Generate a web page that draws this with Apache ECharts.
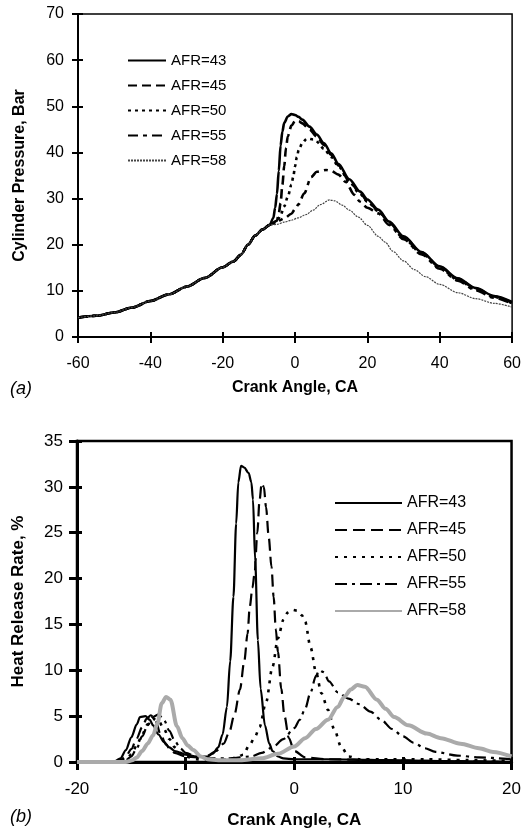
<!DOCTYPE html>
<html><head><meta charset="utf-8">
<script src="https://cdn.jsdelivr.net/npm/echarts@6/dist/echarts.min.js"></script>
<style>
html,body{margin:0;padding:0;background:#fff;}
#c1{position:absolute;left:0;top:0;width:524px;height:420px;}
#c2{position:absolute;left:0;top:420px;width:524px;height:417px;}
</style></head><body>
<div id="c1"></div><div id="c2"></div>
<script>
// ---------- (a) Cylinder pressure ----------
const seriesNames = ['AFR=43','AFR=45','AFR=50','AFR=55','AFR=58'];
const pXTicks = [-60,-40,-20,0,20,40,60];
const pYTicks = [0,10,20,30,40,50,60,70];
const caCompression = [-60,-55,-50,-45,-40,-35,-30,-25,-20,-17,-15,-13,-11,-9,-7];
const pCompression  = [4.2,4.6,5.3,6.4,7.8,9.2,10.9,12.8,15.1,16.4,17.8,20.0,22.0,23.3,24.3];
const caP43 = [-6,-5.5,-5,-4.5,-4,-3.5,-3,-2,-1,0,1,2,4,6,8,10,12,15,18,20,23,26,30,35,40,45,50,55,60];
const p43   = [25.8,28,31,36,41.5,44.5,46.4,47.8,48.3,48.1,47.7,47.1,45.6,43.9,42,39.8,37.5,34.2,31.5,29.8,27.6,25,21.8,18.4,15.3,12.7,10.6,8.9,7.6];
const caP45 = [-5,-4.5,-4,-3.5,-3,-2.5,-2,-1,0,0.5,1,2,4,6,8,10,12,15,18,20,23,26,30,35,40,45,50,55,60];
const p45   = [25.2,26.8,29,33,37,41,43.5,45.8,46.8,46.9,46.8,46.3,45,43.4,41.6,39.5,37.2,33.8,31.2,29.5,27.4,24.8,21.6,18.3,15.2,12.6,10.5,8.8,7.4];
const caP50 = [-5,-4,-3,-2,-1,-0.5,0,0.5,1,2,3,3.6,5,6,8,10,12,15,18,20,23,26,30,35,40,45,50,55,60];
const p50   = [25,26.4,28.3,30.4,33,34.7,37,39,40.5,42,42.8,43,42.8,42.3,40.8,39,37,33.6,31,29.3,27.3,24.6,21.4,18.1,15.0,12.4,10.3,8.7,7.3];
const caP55 = [-5,-3,-1,0,1,2.5,4.5,6,8.6,10,12,14,16.4,18,20,23,26,30,35,40,45,50,55,60];
const p55   = [25,25.7,26.7,27.7,28.8,31.1,34.7,35.8,36.2,36,35.2,33.6,30.8,29.3,28,26.8,24.3,21.2,17.9,14.8,12.2,10.1,8.5,7.2];
const caP58 = [-5,-3,-1,0.8,3,5,7,9.5,11,13,15,17.5,20,23,25,27,30,33,36,40,45,50,55,60];
const p58   = [24.4,24.9,25.3,25.8,26.5,27.5,28.7,29.7,29.5,28.6,27.5,26,24.2,21.8,20.5,18.6,16.5,14.6,13.1,11.4,9.6,8.3,7.3,6.5];

// ---------- (b) Heat release rate ----------
const hXTicks = [-20,-10,0,10,20];
const hYTicks = [0,5,10,15,20,25,30,35];
const caH43 = [-20,-17,-16.5,-16,-15.5,-15,-14.5,-14.2,-13.7,-13.3,-13,-12.5,-12,-11.5,-11,-10,-9,-8,-7.5,-7,-6.6,-6.2,-5.9,-5.6,-5.35,-5.15,-4.9,-4.6,-4.2,-3.95,-3.8,-3.6,-3.35,-3.1,-2.7,-2.3,-2,-1.5,-1,0,3,8,14,20];
const h43   = [0,0,0.1,0.4,1.3,2.7,4.1,4.9,5.0,4.6,4.0,3.0,2.2,1.6,1.2,0.8,0.6,0.6,0.9,1.6,3.0,6.0,11,18,26,30.5,32.3,32.1,31.5,30.5,28.6,22,13.3,8,4,2,1.2,0.6,0.4,0.3,0.3,0.2,0.1,0];
const caH45 = [-20,-16.5,-16,-15.5,-15,-14.5,-14,-13.6,-13.2,-12.8,-12.3,-11.8,-11.4,-11,-10,-9,-8,-7.2,-6.5,-6,-5.5,-5,-4.6,-4.3,-4.1,-3.85,-3.65,-3.4,-3.2,-3.0,-2.8,-2.6,-2.35,-2.1,-1.9,-1.7,-1.5,-1.2,-0.9,-0.5,0,1,3,8,14,20];
const h45   = [0,0,0.2,0.6,1.4,2.6,3.8,4.7,5.1,4.6,3.0,1.9,1.3,1.0,0.6,0.5,0.7,1.2,2.0,3.2,5.2,7.9,11,14,16.9,19,20.6,25,28.5,30.4,30,27.8,24.5,21.3,18,14.5,12,8,5,2.6,1.2,0.5,0.3,0.2,0.1,0];
const caH50 = [-20,-16,-15.5,-15,-14.5,-14,-13.5,-13,-12.5,-12,-11.5,-11,-10.5,-10,-9,-8,-7,-6,-5.3,-4.7,-4.1,-3.6,-3.2,-2.6,-2.0,-1.5,-1.0,-0.6,-0.2,0.3,0.7,1.0,1.5,2.0,2.5,3.1,3.7,4.3,5.0,6,8,12,16,20];
const h50   = [0,0,0.3,0.8,1.8,3.0,4.1,4.7,4.5,3.6,2.5,1.6,1.0,0.6,0.3,0.2,0.2,0.3,0.5,0.8,1.9,2.8,3.8,6.5,10.4,13.5,15.5,16.3,16.6,16.5,16,15.3,12.5,9.8,7.5,5.7,3.5,1.7,0.6,0.3,0.3,0.3,0.2,0.1];
const caH55 = [-20,-16,-15.5,-15,-14.5,-14,-13.5,-13,-12.5,-12,-11.5,-11,-10.5,-10,-9,-8,-6,-4,-3,-2,-1,0,0.5,1,1.5,2,2.3,2.7,3.2,4,5,6,7,8,9,10,11,12,13,15,17,20];
const h55   = [0,0,0.2,0.6,1.5,2.8,4.0,4.9,5.2,4.6,3.4,2.3,1.5,1.0,0.6,0.4,0.4,0.6,1.0,1.6,2.5,3.7,4.6,5.8,7.6,9.4,10.0,9.8,8.8,7.6,6.9,6.3,5.5,4.6,3.6,2.8,2.1,1.5,1.1,0.7,0.5,0.3];
const caH58 = [-20,-15.5,-14.9,-14.5,-14,-13.5,-13,-12.6,-12.2,-11.8,-11.4,-10.8,-10.3,-9.8,-9.3,-8.6,-8,-7,-5,-3,-1.5,0,1,2,3.1,4,4.6,5.2,5.8,6.5,7.6,8.4,9.2,10.5,12.2,13.5,15.3,17,18.3,20];
const h58   = [0,0,0.2,0.5,1.2,2.0,2.9,4.2,6.4,7.1,6.8,3.9,2.6,1.8,1.3,0.6,0.3,0.2,0.2,0.4,0.9,1.7,2.6,3.6,4.6,6.0,7.1,7.9,8.4,8.2,6.8,5.8,4.9,4.0,3.1,2.6,2.0,1.5,1.1,0.6];

const FONT = '"Liberation Sans", Arial, sans-serif';
const pair = (xs, ys) => xs.map((x, i) => [x, ys[i]]);

function axesFor(xmin, xmax, xint, ymin, ymax, yint, opts) {
  const lw = opts.axisWidth;
  const lbl = {color:'#000', fontFamily:FONT, fontSize:opts.labelSize};
  const xAxis = [
    {type:'value', min:xmin, max:xmax, interval:xint, position:'bottom',
     axisLine:{show:true, onZero:false, lineStyle:{color:'#000', width:lw}},
     axisTick:{show:true, inside:false, length:opts.tickOut, lineStyle:{color:'#000', width:lw}},
     axisLabel:{...lbl, margin:opts.xLabelMargin},
     splitLine:{show:false},
     name:'Crank Angle, CA', nameLocation:'middle', nameGap:opts.xNameGap,
     nameTextStyle:{color:'#000', fontFamily:FONT, fontWeight:'bold', fontSize:opts.titleSize}},
    {type:'value', min:xmin, max:xmax, interval:xint, position:'bottom', offset:0,
     axisLine:{show:false, onZero:false}, axisLabel:{show:false}, splitLine:{show:false},
     axisTick:{show:true, inside:true, length:opts.tickIn, lineStyle:{color:'#000', width:lw}}}
  ];
  const yAxis = [
    {type:'value', min:ymin, max:ymax, interval:yint, position:'left',
     axisLine:{show:true, onZero:false, lineStyle:{color:'#000', width:lw}},
     axisTick:{show:true, inside:false, length:opts.tickOut, lineStyle:{color:'#000', width:lw}},
     axisLabel:{...lbl, margin:opts.yLabelMargin},
     splitLine:{show:false},
     name:opts.yName, nameLocation:'middle', nameGap:opts.yNameGap,
     nameTextStyle:{color:'#000', fontFamily:FONT, fontWeight:'bold', fontSize:opts.titleSize}},
    {type:'value', min:ymin, max:ymax, interval:yint, position:'left', offset:0,
     axisLine:{show:false, onZero:false}, axisLabel:{show:false}, splitLine:{show:false},
     axisTick:{show:true, inside:true, length:opts.tickIn, lineStyle:{color:'#000', width:lw}}}
  ];
  return {xAxis, yAxis};
}

function mkSeries(name, data, color, width, type) {
  return {name, type:'line', data, xAxisIndex:0, yAxisIndex:0, symbol:'none',
    smooth:0.3, smoothMonotone:'x', animation:false,
    lineStyle:{color, width, type}, itemStyle:{color}};
}

// Chart (a)
const c1 = echarts.init(document.getElementById('c1'), null, {renderer:'canvas'});
const a1 = axesFor(-60, 60, 20, 0, 70, 10, {axisWidth:2, labelSize:16, titleSize:16, tickOut:6, tickIn:5,
  xLabelMargin:19, yLabelMargin:14, xNameGap:43, yNameGap:50, yName:'Cylinder Pressure, Bar'});
c1.setOption({
  animation:false,
  grid:{left:78, right:10, top:14, bottom:83, show:true, borderColor:'#000', borderWidth:1.5, backgroundColor:'transparent'},
  xAxis:a1.xAxis, yAxis:a1.yAxis,
  legend:{orient:'vertical', left:127, top:53, padding:0, itemWidth:38, itemHeight:10, itemGap:10,
    itemStyle:{opacity:0},
    textStyle:{color:'#000', fontFamily:FONT, fontSize:15, lineHeight:15}, data:seriesNames, selectedMode:false},
  graphic:[{type:'text', left:10, top:380, style:{text:'(a)', font:'italic 18px ' + FONT, fill:'#000'}}],
  series:[
    mkSeries('AFR=43', pair(caCompression.concat(caP43), pCompression.concat(p43)), '#000', 2.6, 'solid'),
    mkSeries('AFR=45', pair(caCompression.concat(caP45), pCompression.concat(p45)), '#000', 2.6, [9,5]),
    mkSeries('AFR=50', pair(caCompression.concat(caP50), pCompression.concat(p50)), '#000', 2.6, [3,4]),
    mkSeries('AFR=55', pair(caCompression.concat(caP55), pCompression.concat(p55)), '#000', 2.6, [10,5,4,5]),
    mkSeries('AFR=58', pair(caCompression.concat(caP58), pCompression.concat(p58)), '#444', 1.2, [2,1])
  ]
});

// Chart (b)
const c2 = echarts.init(document.getElementById('c2'), null, {renderer:'canvas'});
const a2 = axesFor(-20, 20, 10, 0, 35, 5, {axisWidth:3, labelSize:17, titleSize:17, tickOut:8, tickIn:5,
  xLabelMargin:19, yLabelMargin:14, xNameGap:50, yNameGap:50, yName:'Heat Release Rate, %'});
c2.setOption({
  animation:false,
  grid:{left:77, right:9, top:21, bottom:75, show:true, borderColor:'#000', borderWidth:2.5, backgroundColor:'transparent'},
  xAxis:a2.xAxis, yAxis:a2.yAxis,
  legend:{orient:'vertical', left:334, top:75, padding:0, itemWidth:67, itemHeight:12, itemGap:11,
    itemStyle:{opacity:0},
    textStyle:{color:'#000', fontFamily:FONT, fontSize:16, lineHeight:16}, data:seriesNames, selectedMode:false},
  graphic:[{type:'text', left:10, top:388, style:{text:'(b)', font:'italic 18px ' + FONT, fill:'#000'}}],
  series:[
    mkSeries('AFR=43', pair(caH43, h43), '#000', 2.2, 'solid'),
    mkSeries('AFR=45', pair(caH45, h45), '#000', 2.2, [12,6]),
    mkSeries('AFR=50', pair(caH50, h50), '#000', 2.6, [3,6]),
    mkSeries('AFR=55', pair(caH55, h55), '#000', 2.2, [12,5,3,5]),
    mkSeries('AFR=58', pair(caH58, h58), '#aaa', 4, 'solid')
  ]
});
</script>
</body></html>
